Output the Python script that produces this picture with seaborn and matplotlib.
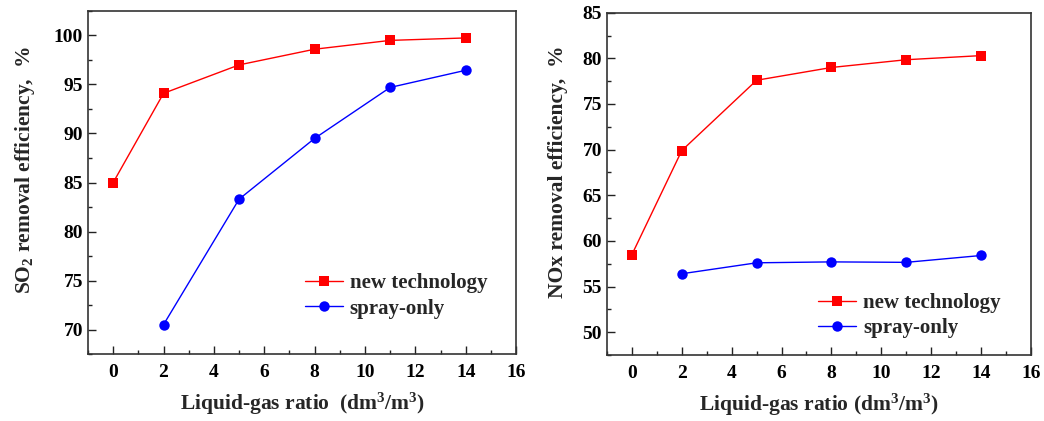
import matplotlib
matplotlib.use("Agg")
import matplotlib.pyplot as plt
import seaborn as sns
import pandas as pd
from matplotlib.ticker import MultipleLocator

# Data
x_new = [0, 2, 5, 8, 11, 14]
x_spray = [2, 5, 8, 11, 14]
so2_new = [85.0, 94.1, 97.0, 98.6, 99.5, 99.75]
so2_spray = [70.5, 83.3, 89.5, 94.7, 96.45]
nox_new = [58.5, 69.9, 77.6, 79.0, 79.85, 80.3]
nox_spray = [56.4, 57.6, 57.7, 57.65, 58.4]
series_names = ["new technology", "spray-only"]

sns.set_theme(style="ticks")
plt.rcParams['font.family'] = ['Liberation Serif', 'DejaVu Serif']
plt.rcParams['font.weight'] = 'bold'
plt.rcParams['mathtext.fontset'] = 'custom'
plt.rcParams['mathtext.rm'] = 'Liberation Serif:bold'
plt.rcParams['mathtext.bf'] = 'Liberation Serif:bold'
plt.rcParams['mathtext.it'] = 'Liberation Serif:bold'

def make_df(new, spray):
    return pd.concat([
        pd.DataFrame({"x": x_new, "y": new, "series": series_names[0]}),
        pd.DataFrame({"x": x_spray, "y": spray, "series": series_names[1]}),
    ], ignore_index=True)

fig = plt.figure(figsize=(10.44, 4.21), dpi=100)
ax1 = fig.add_axes([0.0843, 0.1591, 0.41, 0.8148])
ax2 = fig.add_axes([0.5814, 0.1568, 0.4061, 0.8130])

palette = {series_names[0]: "#ff0000", series_names[1]: "#0000ff"}
markers = {series_names[0]: "s", series_names[1]: "o"}

for ax, (new, spray), ylim, ylabel, xlabel, legpos, ylx in [
    (ax1, (so2_new, so2_spray), (67.5, 102.5),
     "SO$_\\mathrm{2}$ removal efficiency,  %",
     "Liquid-gas ratio  (dm$^\\mathrm{3}$/m$^\\mathrm{3}$)",
     (0.507, 0.169), -0.12),
    (ax2, (nox_new, nox_spray), (47.5, 85),
     "NOx removal efficiency,  %",
     "Liquid-gas ratio (dm$^\\mathrm{3}$/m$^\\mathrm{3}$)",
     (0.498, 0.115), -0.093),
]:
    df = make_df(new, spray)
    sns.lineplot(data=df, x="x", y="y", hue="series", style="series",
                 palette=palette, markers=markers, dashes=False,
                 markersize=7.5, markeredgewidth=0, linewidth=1, ax=ax)
    ax.set_xlim(-1, 16)
    ax.set_ylim(*ylim)
    ax.xaxis.set_major_locator(MultipleLocator(2))
    ax.xaxis.set_minor_locator(MultipleLocator(1))
    ax.yaxis.set_major_locator(MultipleLocator(5))
    ax.yaxis.set_minor_locator(MultipleLocator(2.5))
    ax.tick_params(which='both', direction='in', width=1, colors='#222222',
                   labelcolor='black', labelsize=14)
    ax.tick_params(which='major', length=6)
    ax.tick_params(which='minor', length=3)
    ax.tick_params(axis='x', pad=7)
    for lab in ax.get_xticklabels() + ax.get_yticklabels():
        lab.set_fontweight('bold')
    for s in ax.spines.values():
        s.set_linewidth(1.2)
        s.set_color('#333333')
    ax.set_xlabel(xlabel, fontsize=15.5, fontweight='bold', labelpad=7)
    ax.set_ylabel(ylabel, fontsize=15.5, fontweight='bold')
    ax.yaxis.set_label_coords(ylx, 0.535)
    leg = ax.legend(loc='center left', bbox_to_anchor=legpos, frameon=False,
                    fontsize=15, handlelength=1.8, handletextpad=0.35,
                    labelspacing=0.25, borderpad=0, borderaxespad=0)
    for t in leg.get_texts():
        t.set_fontweight('bold')

fig.savefig("out.png", dpi=100)
